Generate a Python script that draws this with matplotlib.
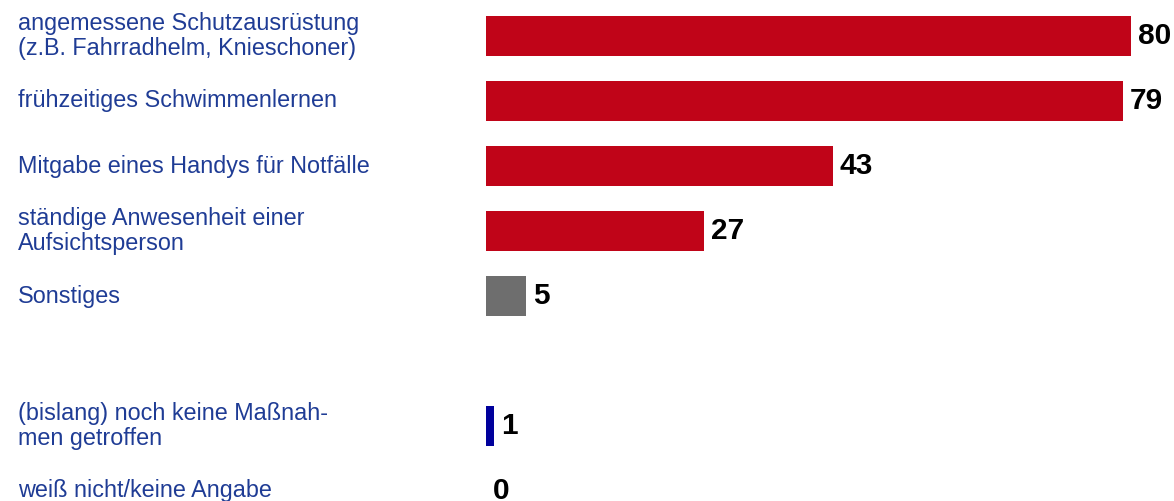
import matplotlib.pyplot as plt
from matplotlib.transforms import blended_transform_factory

# answers, top to bottom (row 5 is left empty as a spacer)
labels = [
    "angemessene Schutzausrüstung\n(z.B. Fahrradhelm, Knieschoner)",
    "frühzeitiges Schwimmenlernen",
    "Mitgabe eines Handys für Notfälle",
    "ständige Anwesenheit einer\nAufsichtsperson",
    "Sonstiges",
    "(bislang) noch keine Maßnah-\nmen getroffen",
    "weiß nicht/keine Angabe",
]
values = [80, 79, 43, 27, 5, 1, 0]
rows = [0, 1, 2, 3, 4, 6, 7]
colors = ["#C00418", "#C00418", "#C00418", "#C00418", "#6E6E6E", "#00009C", "#00009C"]

W, H = 1174, 501
fig = plt.figure(figsize=(W / 100, H / 100), dpi=100)
plt.rcParams['font.family'] = ['Liberation Sans', 'DejaVu Sans']

# bars start at x=486px, 80 units -> 645px
ax = fig.add_axes([486 / W, 0, 1 - 486 / W, 1])
px_per_unit = (1131 - 486) / 80
ax.set_xlim(0, (W - 486) / px_per_unit)
row_h = 65
ax.set_ylim((H - 36) / row_h, -36 / row_h)
ax.axis('off')

ax.barh(rows, values, height=40 / row_h, color=colors)

for r, v in zip(rows, values):
    ax.annotate(str(v), (v, r), xytext=(7, 0), textcoords='offset pixels',
                ha='left', va='center', fontsize=21.5, fontweight='bold', color='black')

trans = blended_transform_factory(fig.transFigure, ax.transData)
for r, lab in zip(rows, labels):
    fig.text(18 / W, r, lab, transform=trans, ha='left', va='center',
             fontsize=16.8, color='#1F3C95', linespacing=1.08)

fig.savefig('out.png', dpi=100)
